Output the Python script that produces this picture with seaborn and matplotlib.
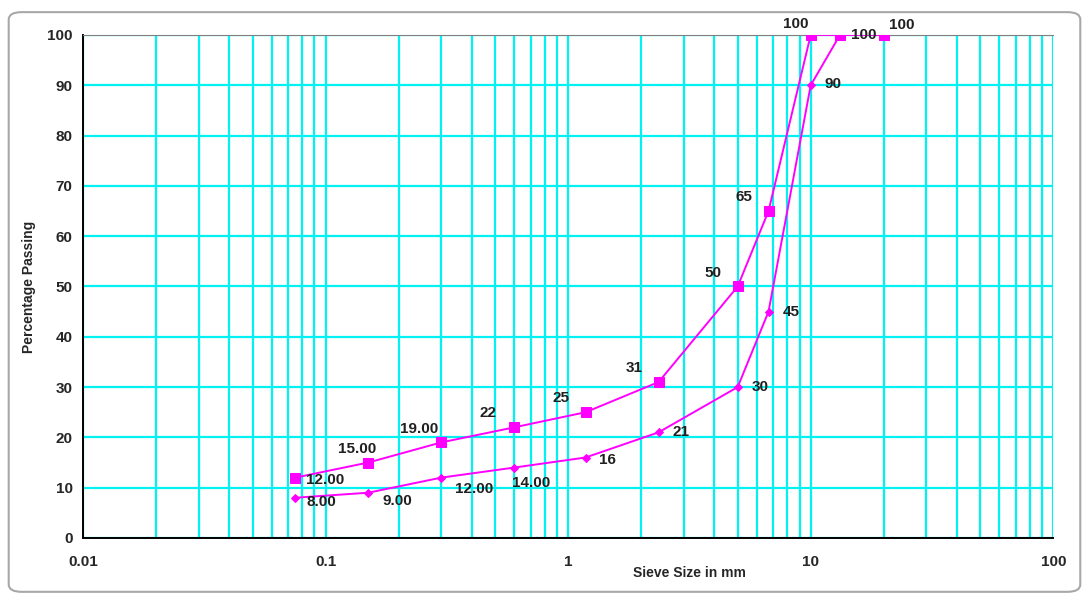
import numpy as np
import pandas as pd
import seaborn as sns
import matplotlib.pyplot as plt
from matplotlib.ticker import LogLocator, FixedLocator, NullFormatter
from matplotlib.patches import FancyBboxPatch

# sieve sizes (mm) and percentage passing
upper_size = [0.075, 0.15, 0.3, 0.6, 1.18, 2.36, 5, 6.7, 10, 13.2, 20]
upper_pass = [12, 15, 19, 22, 25, 31, 50, 65, 100, 100, 100]
upper_lbl = ['12.00', '15.00', '19.00', '22', '25', '31', '50', '65', '100', '100', '100']

lower_size = [0.075, 0.15, 0.3, 0.6, 1.18, 2.36, 5, 6.7, 10, 13.2]
lower_pass = [8, 9, 12, 14, 16, 21, 30, 45, 90, 100]
lower_lbl = ['8.00', '9.00', '12.00', '14.00', '16', '21', '30', '45', '90', '']

sns.set_style('white')
plt.rcParams['font.family'] = ['Liberation Sans', 'DejaVu Sans']
plt.rcParams['font.weight'] = 'bold'

fig = plt.figure(figsize=(10.89, 6.07), dpi=100)
ax = fig.add_axes([0.0762, 0.1137, 0.891, 0.8287])

# excel-ish chart frame
fig.patches.append(FancyBboxPatch((0.008, 0.025), 0.984, 0.955, boxstyle='round,pad=0,rounding_size=0.012',
                                  transform=fig.transFigure, fc='none', ec='#a8a8a8', lw=1.5))

magenta = '#ff00ff'
up = pd.DataFrame({'size': upper_size, 'pass': upper_pass})
lo = pd.DataFrame({'size': lower_size, 'pass': lower_pass})
sns.lineplot(data=up, x='size', y='pass', ax=ax, color=magenta, marker='s', markersize=7,
             markeredgecolor=magenta, lw=1.4, zorder=5)
sns.lineplot(data=lo, x='size', y='pass', ax=ax, color=magenta, marker='D', markersize=4.5,
             markeredgecolor=magenta, lw=1.4, zorder=4)

ax.set_xscale('log')
ax.set_xlim(0.01, 100)
ax.set_ylim(0, 100)
ax.xaxis.set_major_locator(LogLocator(base=10, numticks=10))
ax.xaxis.set_minor_locator(LogLocator(base=10, subs=np.arange(2, 10), numticks=20))
ax.xaxis.set_minor_formatter(NullFormatter())
ax.set_xticks([0.01, 0.1, 1, 10, 100])
ax.set_xticklabels(['0.01', '0.1', '1', '10', '100'])
ax.yaxis.set_major_locator(FixedLocator(np.arange(0, 101, 10)))

grid_c = '#00f2f2'
ax.grid(True, which='major', axis='both', color=grid_c, lw=1.6)
ax.grid(True, which='minor', axis='x', color=grid_c, lw=1.6)
ax.tick_params(axis='both', which='major', labelsize=11, length=4, color='black', direction='out')
ax.tick_params(axis='x', which='minor', length=0)
ax.tick_params(axis='x', pad=8)

for s in ['left', 'bottom']:
    ax.spines[s].set_color('black')
    ax.spines[s].set_linewidth(1.4)
ax.spines['top'].set_color('#808080')
ax.spines['right'].set_visible(False)

ax.set_xlabel('Sieve Size in mm', fontsize=10, fontweight='bold', labelpad=2)
ax.set_ylabel('Percentage Passing', fontsize=10, fontweight='bold', labelpad=8)
ax.xaxis.set_label_coords(0.625, -0.055)

# point labels (offsets in points)
up_off = [(8, -2), (-22, 10), (-30, 10), (-25, 10), (-24, 10), (-24, 10), (-24, 10), (-24, 10),
          (-20, 8), (8, 0), (4, 7)]
lo_off = [(8, -3), (10, -6), (10, -8), (-2, -11), (10, -2), (10, 0), (10, 0), (10, 0), (10, 1), (0, 0)]
for x, y, t, o in zip(upper_size, upper_pass, upper_lbl, up_off):
    ax.annotate(t, (x, y), xytext=o, textcoords='offset points', fontsize=11, fontweight='bold',
                color='#202020', va='center', ha='left', zorder=6, annotation_clip=False)
for x, y, t, o in zip(lower_size, lower_pass, lower_lbl, lo_off):
    ax.annotate(t, (x, y), xytext=o, textcoords='offset points', fontsize=11, fontweight='bold',
                color='#202020', va='center', ha='left', zorder=6, annotation_clip=False)

fig.savefig('out.png', dpi=100)
